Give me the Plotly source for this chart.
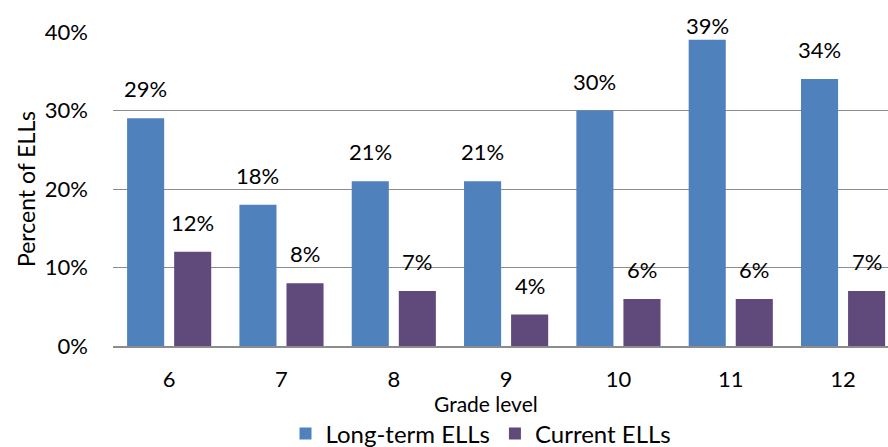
import plotly.graph_objects as go

# Share of English language learners by grade
grades = ["6", "7", "8", "9", "10", "11", "12"]
long_term = [29, 18, 21, 21, 30, 39, 34]
current = [12, 8, 7, 4, 6, 6, 7]
series_names = ["Long-term ELLs", "Current ELLs"]
y_ticks = [0, 10, 20, 30, 40]
y_tick_text = ["0%", "10%", "20%", "30%", "40%"]

FONT = "Lato, Noto Sans, sans-serif"
BLUE = "#4F81BD"
PURPLE = "#604A7B"
GRID = "#8C8C8C"

BARGAP = 0.162
GROUPGAP = 0.212
W, H = 888, 447
M_L, M_R, M_T, M_B = 113, 0, 32, 101
Y_MAX = 40
PLOT_W = W - M_L - M_R
PLOT_H = H - M_T - M_B
LABEL_SIZE = 22


def paper_x(px):
    return (px - M_L) / PLOT_W


def paper_y(py):
    return (H - M_B - py) / PLOT_H


fig = go.Figure()
fig.add_trace(go.Bar(x=grades, y=long_term, name=series_names[0],
                     marker=dict(color=BLUE, line=dict(width=0))))
fig.add_trace(go.Bar(x=grades, y=current, name=series_names[1],
                     marker=dict(color=PURPLE, line=dict(width=0))))

# Value labels above each bar, kept inside the figure near the top
slot = (1 - BARGAP) / 2
px_per_unit = PLOT_H / Y_MAX
label_h = 33
annotations = []
for k, vals in enumerate([long_term, current]):
    offset = (k - 0.5) * slot
    for i, v in enumerate(vals):
        room = M_T + (Y_MAX - v) * px_per_unit - 8 - label_h
        shift = max(-5, min(14, room))
        annotations.append(dict(
            x=i + offset, y=v, xref="x", yref="y",
            text=f"{v}%", showarrow=False, yanchor="bottom",
            yshift=shift,
            font=dict(family=FONT, size=LABEL_SIZE, color="#000000"),
        ))

annotations.append(dict(
    x=paper_x(486), y=paper_y(403), xref="paper", yref="paper",
    text="Grade level", showarrow=False, xanchor="center", yanchor="middle",
    font=dict(family=FONT, size=21, color="#000000"),
))

fig.update_layout(
    width=W, height=H,
    margin=dict(l=M_L, r=M_R, t=M_T, b=M_B, autoexpand=False),
    paper_bgcolor="white", plot_bgcolor="white",
    barmode="group", bargap=BARGAP, bargroupgap=GROUPGAP,
    font=dict(family=FONT, size=LABEL_SIZE, color="#000000"),
    showlegend=True,
    legend=dict(orientation="h", xref="container", yref="container",
                x=481 / W, y=1 - 434 / H, xanchor="center", yanchor="middle",
                font=dict(family=FONT, size=24, color="#000000"),
                itemwidth=30, tracegroupgap=0),
    annotations=annotations,
)
fig.update_xaxes(
    type="category", range=[-0.5, 6.40], showgrid=False,
    showline=True, linecolor=GRID, linewidth=2, ticks="",
    tickfont=dict(family=FONT, size=LABEL_SIZE), ticklabelstandoff=13,
)
fig.update_yaxes(
    range=[0, Y_MAX], tickvals=y_ticks, ticktext=y_tick_text,
    showgrid=True, gridcolor=GRID, gridwidth=1.2, zeroline=False,
    showline=False, ticks="", ticklabelstandoff=24,
    tickfont=dict(family=FONT, size=LABEL_SIZE),
    title=dict(text="Percent of ELLs", standoff=2,
               font=dict(family=FONT, size=23)),
)

fig.write_html("out.html")
